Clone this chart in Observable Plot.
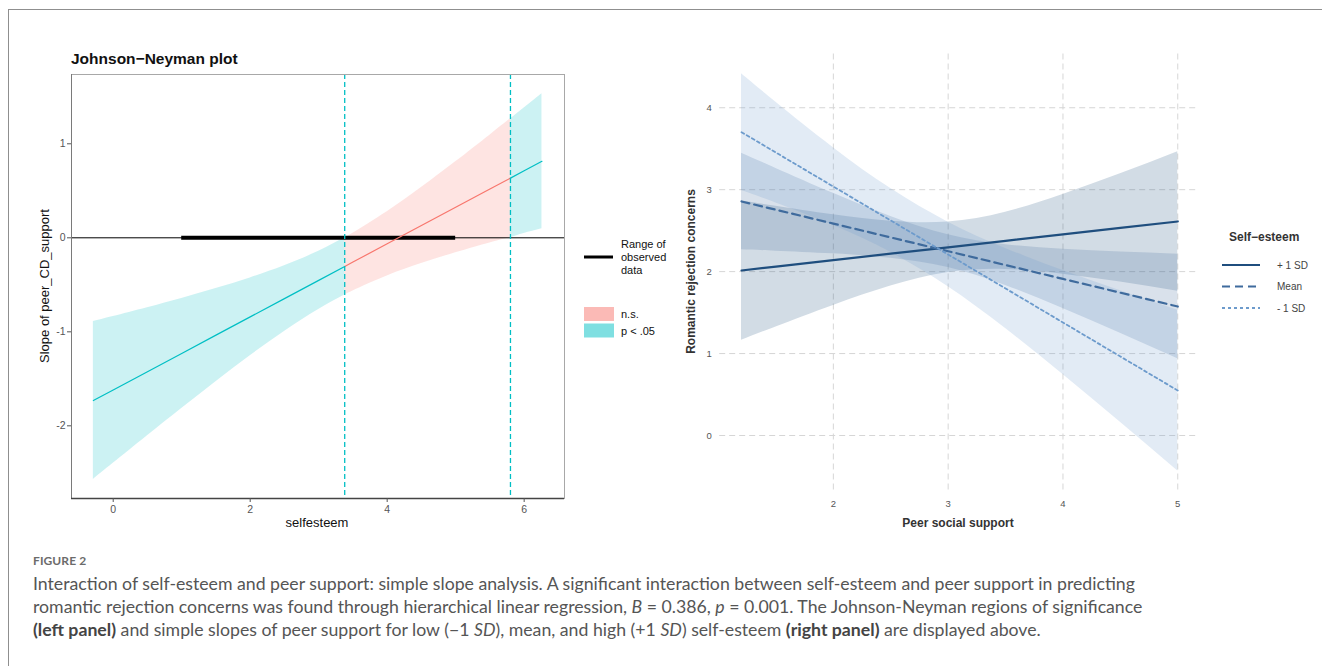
<!DOCTYPE html>
<html>
<head>
<meta charset="utf-8">
<script src="https://cdn.jsdelivr.net/npm/d3@7"></script>
<script src="https://cdn.jsdelivr.net/npm/@observablehq/plot@0.6"></script>
<style>
  html, body { margin: 0; padding: 0; background: #fff; }
  body { width: 1322px; height: 666px; position: relative; overflow: hidden; font-family: "Liberation Sans", Arial, sans-serif; }
  #frame { position: absolute; left: 8px; top: 9px; width: 1400px; height: 700px; border-top: 1.5px solid #8f8f8f; border-left: 1.5px solid #8f8f8f; }
  #left { position: absolute; left: 0; top: 0; }
  #right { position: absolute; left: 660px; top: 0; }
  #overlay { position: absolute; left: 0; top: 0; }
  .cap { position: absolute; left: 33px; font-family: Lato, "Open Sans", sans-serif; white-space: nowrap; }
  #figlabel { top: 553px; font-size: 12px; line-height: 16px; font-weight: 700; color: #6b6b6b; letter-spacing: 0.1px; }
  #captext { top: 572px; font-size: 17.7px; line-height: 23px; color: #555; }
  #captext b { color: #444; }
</style>
</head>
<body>
<div id="frame"></div>
<div id="left"></div>
<div id="right"></div>
<svg id="overlay" width="1322" height="666"></svg>
<div class="cap" id="figlabel">FIGURE 2</div>
<div class="cap" id="captext">Interaction of self-esteem and peer support: simple slope analysis. A significant interaction between self-esteem and peer support in predicting<br>romantic rejection concerns was found through hierarchical linear regression, <i>B</i> = 0.386, <i>p</i> = 0.001. The Johnson-Neyman regions of significance<br><b>(left panel)</b> and simple slopes of peer support for low (&minus;1 <i>SD</i>), mean, and high (+1 <i>SD</i>) self-esteem <b>(right panel)</b> are displayed above.</div>
<script>
// ---------- Left panel data: Johnson-Neyman plot ----------
const jnX     = [-0.29, 0, 0.5, 1, 1.5, 2, 2.5, 3, 3.38, 3.38, 3.5, 4, 4.5, 5, 5.5, 5.8, 5.8, 6, 6.26];
const jnSlope = [-1.731, -1.618, -1.424, -1.230, -1.035, -0.841, -0.647, -0.453, -0.305, -0.305, -0.258, -0.064, 0.130, 0.325, 0.519, 0.635, 0.635, 0.713, 0.814];
const jnLow   = [-2.571, -2.399, -2.105, -1.815, -1.530, -1.255, -0.996, -0.762, -0.609, -0.609, -0.565, -0.406, -0.274, -0.159, -0.054, 0.000, 0.000, 0.045, 0.095];
const jnHigh  = [-0.891, -0.837, -0.743, -0.645, -0.540, -0.427, -0.298, -0.143, 0.000, 0.000, 0.049, 0.278, 0.534, 0.808, 1.092, 1.265, 1.265, 1.381, 1.533];
const jnSig   = ["p < .05","p < .05","p < .05","p < .05","p < .05","p < .05","p < .05","p < .05","p < .05",
                 "n.s.","n.s.","n.s.","n.s.","n.s.","n.s.","n.s.",
                 "p < .05","p < .05","p < .05"];
const jnSeg   = [1,1,1,1,1,1,1,1,1, 2,2,2,2,2,2,2, 3,3,3];
const jnBounds = [3.38, 5.80];
const observedRange = [1, 5];
const sigLevels = ["n.s.", "p < .05"];
const sigColors = ["#F8766D", "#00BFC4"];
const leftXDomain = [-0.609, 6.589];
const leftYDomain = [-2.773, 1.737];
const leftXTicks = [0, 2, 4, 6];
const leftYTicks = [-2, -1, 0, 1];

// ---------- Right panel data: simple slopes ----------
const ssX = [1.2, 1.5, 2, 2.5, 3, 3.5, 4, 4.5, 5];
const hiFit  = [2.014, 2.061, 2.140, 2.219, 2.297, 2.376, 2.455, 2.533, 2.612];
const hiLow  = [1.162, 1.325, 1.587, 1.823, 1.988, 2.027, 1.969, 1.872, 1.760];
const hiHigh = [2.866, 2.797, 2.693, 2.615, 2.606, 2.725, 2.941, 3.194, 3.464];
const meanFit  = [2.856, 2.755, 2.586, 2.417, 2.249, 2.080, 1.911, 1.743, 1.574];
const meanLow  = [2.266, 2.250, 2.217, 2.162, 2.049, 1.831, 1.550, 1.248, 0.936];
const meanHigh = [3.446, 3.260, 2.955, 2.672, 2.449, 2.329, 2.272, 2.238, 2.212];
const loFit  = [3.702, 3.453, 3.038, 2.624, 2.209, 1.794, 1.379, 0.964, 0.549];
const loLow  = [2.990, 2.838, 2.563, 2.235, 1.814, 1.305, 0.745, 0.163, -0.432];
const loHigh = [4.414, 4.068, 3.513, 3.013, 2.604, 2.283, 2.013, 1.765, 1.530];
const ssLevels = ["+ 1 SD", "Mean", "- 1 SD"];
const ssColors = ["#1f4e7e", "#3f6b9d", "#6d9bcc"];
const ssDash = [null, "8,5", "3,3"];
const ssWidth = [2.2, 2.2, 1.8];
const rightXDomain = [1.01, 5.185];
const rightYDomain = [-0.669, 4.656];
const rightXTicks = [2, 3, 4, 5];
const rightYTicks = [0, 1, 2, 3, 4];

// ---------- build tables ----------
const leftData = jnX.map((x, i) => ({x, est: jnSlope[i], lo: jnLow[i], hi: jnHigh[i], sig: jnSig[i], seg: jnSeg[i]}));
const rightData = [];
[[hiFit, hiLow, hiHigh], [meanFit, meanLow, meanHigh], [loFit, loLow, loHigh]].forEach(([f, l, h], k) => {
  ssX.forEach((x, i) => rightData.push({x, fit: f[i], lo: l[i], hi: h[i], level: ssLevels[k]}));
});

const font = "Liberation Sans, Arial, sans-serif";

// ---------- Left plot ----------
const leftPlot = Plot.plot({
  width: 580, height: 540,
  marginLeft: 71, marginRight: 16, marginTop: 74, marginBottom: 42,
  x: {domain: leftXDomain},
  y: {domain: leftYDomain},
  color: {domain: sigLevels, range: sigColors},
  style: {fontFamily: font, background: "transparent", overflow: "visible"},
  marks: [
    Plot.areaY(leftData, {x: "x", y1: "lo", y2: "hi", z: "seg", fill: "sig", fillOpacity: 0.2, curve: "natural"}),
    Plot.ruleY([0], {stroke: "#000", strokeWidth: 1}),
    Plot.ruleY([{a: observedRange[0], b: observedRange[1], y: 0}], {x1: "a", x2: "b", y: "y", stroke: "#000", strokeWidth: 4}),
    Plot.line(leftData, {x: "x", y: "est", z: "seg", stroke: "sig", strokeWidth: 1.2}),
    Plot.ruleX(jnBounds, {stroke: "#00BFC4", strokeWidth: 1.3, strokeDasharray: "5,3"}),
    Plot.frame({stroke: "#a8a8a8", strokeWidth: 1}),
    Plot.ruleX([leftXDomain[0]], {stroke: "#7a7a7a", strokeWidth: 1}),
    Plot.ruleY([leftYDomain[0]], {stroke: "#444", strokeWidth: 1.3}),
    Plot.axisX(leftXTicks, {tickSize: 4, tickPadding: 3, label: null, color: "#555", fontSize: 10.5}),
    Plot.axisY(leftYTicks, {tickSize: 4, tickPadding: 2, label: null, color: "#555", fontSize: 10.5, tickFormat: d => d < 0 ? "-" + Math.abs(d) : String(d)})
  ]
});
document.getElementById("left").append(leftPlot);

// ---------- Right plot ----------
const lineMarks = ssLevels.map((lev, k) =>
  Plot.line(rightData.filter(d => d.level === lev), {
    x: "x", y: "fit", stroke: ssColors[k], strokeWidth: ssWidth[k],
    strokeDasharray: ssDash[k] || undefined
  })
);
const rightPlot = Plot.plot({
  width: 560, height: 540,
  marginLeft: 59.2, marginRight: 21.5, marginTop: 53.5, marginBottom: 50.2,
  x: {domain: rightXDomain},
  y: {domain: rightYDomain},
  color: {domain: ssLevels, range: ssColors},
  style: {fontFamily: font, background: "transparent", overflow: "visible"},
  marks: [
    Plot.gridX(rightXTicks, {stroke: "#d6d6d6", strokeOpacity: 1, strokeWidth: 1, strokeDasharray: "6,4"}),
    Plot.gridY(rightYTicks, {stroke: "#d6d6d6", strokeOpacity: 1, strokeWidth: 1, strokeDasharray: "6,4"}),
    Plot.areaY(rightData, {x: "x", y1: "lo", y2: "hi", z: "level", fill: "level", fillOpacity: 0.2, curve: "natural"}),
    ...lineMarks,
    Plot.axisX(rightXTicks, {tickSize: 0, tickPadding: 10, label: null, color: "#555", fontSize: 9.5, tickFormat: d => String(d)}),
    Plot.axisY(rightYTicks, {tickSize: 0, tickPadding: 8, label: null, color: "#555", fontSize: 9.5, tickFormat: d => String(d)})
  ]
});
document.getElementById("right").append(rightPlot);

// ---------- overlay texts & legends ----------
const ov = d3.select("#overlay").style("font-family", font);
ov.append("text").attr("x", 71).attr("y", 64).attr("font-size", 15.5).attr("font-weight", 700).attr("fill", "#111").text("Johnson\u2212Neyman plot");
ov.append("text").attr("transform", "translate(48.5,286) rotate(-90)").attr("text-anchor", "middle").attr("font-size", 13).attr("fill", "#111").text("Slope of peer_CD_support");
ov.append("text").attr("x", 317).attr("y", 527).attr("text-anchor", "middle").attr("font-size", 13).attr("fill", "#111").text("selfesteem");

// left legend
ov.append("line").attr("x1", 584).attr("x2", 613).attr("y1", 257).attr("y2", 257).attr("stroke", "#000").attr("stroke-width", 3);
["Range of", "observed", "data"].forEach((t, i) =>
  ov.append("text").attr("x", 621).attr("y", 248 + 13 * i).attr("font-size", 11).attr("fill", "#111").text(t));
sigLevels.forEach((lev, i) => {
  ov.append("rect").attr("x", 584).attr("y", 307 + 16.5 * i).attr("width", 30).attr("height", 14)
    .attr("fill", sigColors[i]).attr("fill-opacity", 0.5);
  ov.append("text").attr("x", 621).attr("y", 318 + 16.5 * i).attr("font-size", 11).attr("fill", "#111").text(lev);
});

// right axis titles
ov.append("text").attr("transform", "translate(695,271.5) rotate(-90)").attr("text-anchor", "middle").attr("font-size", 12).attr("font-weight", 700).attr("fill", "#333").text("Romantic rejection concerns");
ov.append("text").attr("x", 958).attr("y", 527).attr("text-anchor", "middle").attr("font-size", 12).attr("font-weight", 700).attr("fill", "#333").text("Peer social support");

// right legend
ov.append("text").attr("x", 1229).attr("y", 241).attr("font-size", 12).attr("font-weight", 700).attr("fill", "#333").text("Self\u2212esteem");
ssLevels.forEach((lev, k) => {
  const y = 265 + 21.5 * k;
  const ln = ov.append("line").attr("x1", 1222).attr("x2", 1260).attr("y1", y).attr("y2", y)
    .attr("stroke", ssColors[k]).attr("stroke-width", ssWidth[k]);
  if (ssDash[k]) ln.attr("stroke-dasharray", ssDash[k]);
  ov.append("text").attr("x", 1277).attr("y", y + 3.5).attr("font-size", 10).attr("fill", "#444").text(lev);
});
</script>
</body>
</html>
